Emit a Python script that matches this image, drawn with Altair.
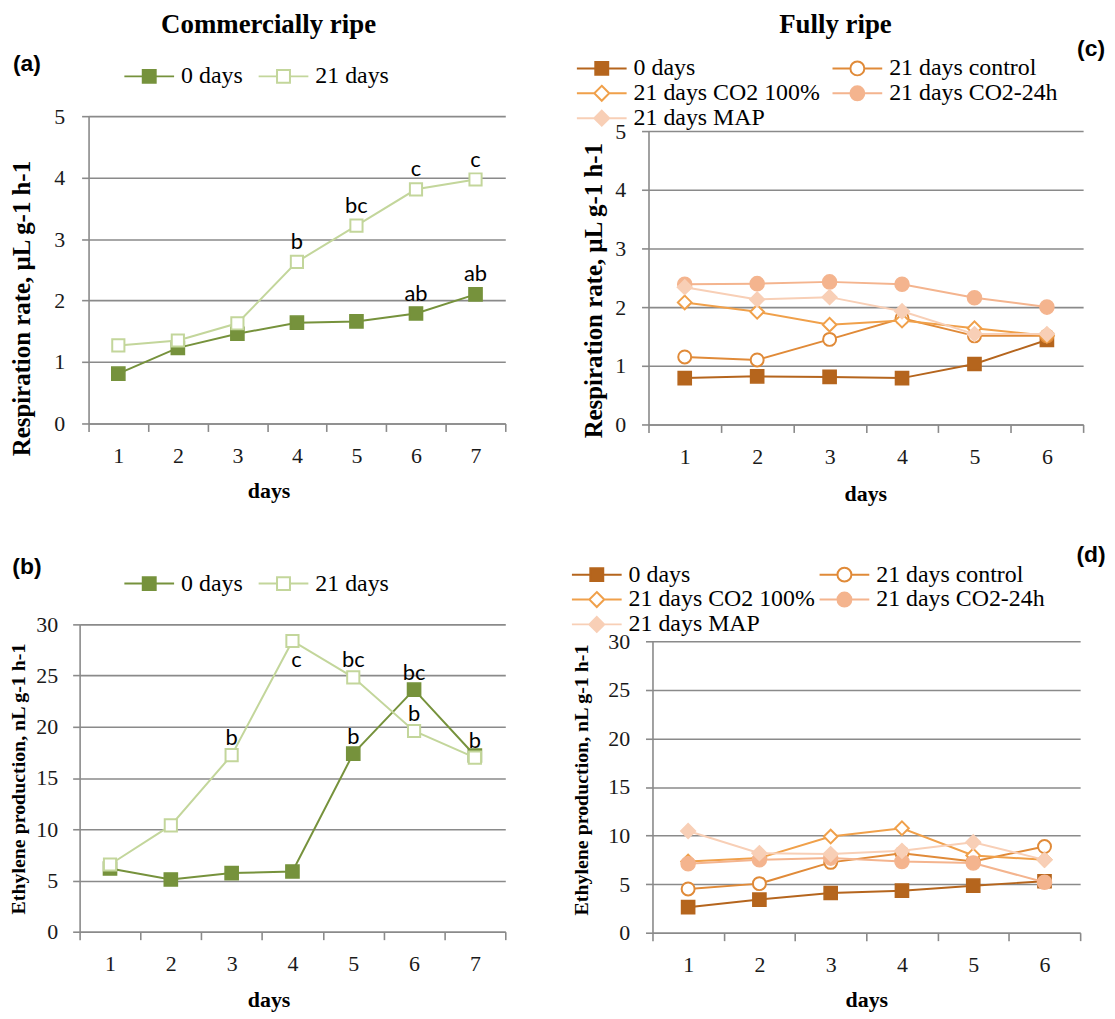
import altair as alt
import pandas as pd

# ---------------- data ----------------
days_cr = [1, 2, 3, 4, 5, 6, 7]
days_fr = [1, 2, 3, 4, 5, 6]

cr_series = ["0 days", "21 days"]
cr_resp_0 = [0.81, 1.23, 1.46, 1.64, 1.66, 1.79, 2.10]
cr_resp_21 = [1.27, 1.35, 1.63, 2.63, 3.22, 3.81, 3.97]
cr_resp_let_0 = ["", "", "", "", "", "ab", "ab"]
cr_resp_let_21 = ["", "", "", "b", "bc", "c", "c"]

cr_eth_0 = [6.17, 5.10, 5.72, 5.88, 17.39, 23.63, 17.20]
cr_eth_21 = [6.56, 10.38, 17.23, 28.38, 24.83, 19.59, 17.00]
cr_eth_let_0 = ["", "", "", "", "b", "bc", ""]
cr_eth_let_21 = ["", "", "b", "", "bc", "b", "b"]
cr_eth_let_21_below = ["", "", "", "c", "", "", ""]

fr_series = ["0 days", "21 days control", "21 days CO2 100%", "21 days CO2-24h", "21 days MAP"]
fr_resp_0 = [0.79, 0.82, 0.81, 0.79, 1.03, 1.44]
fr_resp_control = [1.15, 1.10, 1.45, 1.81, 1.51, 1.51]
fr_resp_co2 = [2.08, 1.92, 1.70, 1.77, 1.64, 1.51]
fr_resp_co2_24h = [2.39, 2.40, 2.43, 2.39, 2.16, 2.00]
fr_resp_map = [2.34, 2.13, 2.17, 1.93, 1.54, 1.54]

fr_eth_0 = [2.63, 3.41, 4.09, 4.33, 4.84, 5.30]
fr_eth_control = [4.50, 5.05, 7.24, 8.19, 7.34, 8.87]
fr_eth_co2 = [7.34, 7.68, 9.90, 10.75, 7.95, 7.50]
fr_eth_co2_24h = [7.10, 7.50, 7.68, 7.34, 7.17, 5.19]
fr_eth_map = [10.47, 8.19, 8.09, 8.43, 9.31, 7.50]

resp_ticks = [0, 1, 2, 3, 4, 5]
eth_ticks = [0, 5, 10, 15, 20, 25, 30]

# ---------------- styles ----------------
SERIF = "Liberation Serif"
SANS = "Liberation Sans"
GRID = "#8a8a8a"
LABEL = "#1a1a1a"

cr_style = {
    "0 days": dict(color="#76923C", shape="square", fill="#76923C", size=175, sw=1.5),
    "21 days": dict(color="#C3D69B", shape="square", fill="white", size=150, sw=2),
}
fr_style = {
    "0 days": dict(color="#B5651D", shape="square", fill="#B5651D", size=175, sw=1.5),
    "21 days control": dict(color="#E08A38", shape="circle", fill="white", size=170, sw=2),
    "21 days CO2 100%": dict(color="#F0A04A", shape="diamond", fill="white", size=190, sw=2),
    "21 days CO2-24h": dict(color="#F4B48E", shape="circle", fill="#F4B48E", size=200, sw=1.5),
    "21 days MAP": dict(color="#F8CFB6", shape="diamond", fill="#F8CFB6", size=220, sw=1.5),
}


def legend_path(shape):
    L = 2.5
    if shape == "square":
        r = 0.65
        body = f"M{-r},{-r}L{r},{-r}L{r},{r}L{-r},{r}Z"
    elif shape == "circle":
        r = 0.7
        body = f"M{r},0A{r},{r},0,1,1,{-r},0A{r},{r},0,1,1,{r},0Z"
    else:
        r = 0.75
        body = f"M0,{-r}L{r},0L0,{r}L{-r},0Z"
    return f"M{-L},0L{-r},0M{r},0L{L},0" + body


def long_df(days, names, values, above, below=None):
    rows = []
    for i, name in enumerate(names):
        for j, d in enumerate(days):
            rows.append({
                "day": d,
                "series": name,
                "value": values[i][j],
                "above": above[i][j],
                "below": below[i][j] if below else "",
            })
    return pd.DataFrame(rows)


def deco(text, px, py, font, size):
    return alt.Chart(pd.DataFrame({"t": [text]})).mark_text(
        font=font, fontSize=size, fontWeight="bold", color="black",
        align="center", baseline="middle"
    ).encode(x=alt.value(px), y=alt.value(py), text="t:N")


def panel(df, names, style, ymax, yticks, width, height, xrange, yrange, yoffset,
          ytitle, ytsize, ytx, yty, xtx, xty, lab_pad, leg_x, leg_y, leg_colpad,
          letter_dy, decos):
    xscale = dict(type="band", paddingInner=0, paddingOuter=0)
    if xrange:
        xscale["range"] = xrange
    yscale = dict(domain=[0, ymax], nice=False, zero=True)
    if yrange:
        yscale["range"] = yrange
    x = alt.X("day:O", title="days", scale=alt.Scale(**xscale),
              axis=alt.Axis(tickBand="extent", labelAngle=0, grid=False,
                            domainColor=GRID, domainWidth=1.6, tickColor=GRID,
                            tickWidth=1.6, tickSize=8, labelFont=SERIF,
                            labelFontSize=22, labelColor=LABEL, labelPadding=14,
                            titleFont=SERIF, titleFontSize=22, titleFontWeight="bold",
                            titleColor="black", titleX=xtx, titleY=xty,
                            titleBaseline="middle", titleAlign="center"))
    y = alt.Y("value:Q", title=ytitle, scale=alt.Scale(**yscale),
              axis=alt.Axis(values=yticks, grid=True, gridColor=GRID, gridWidth=1.6,
                            domainColor=GRID, domainWidth=1.6, tickColor=GRID,
                            tickWidth=1.6, tickSize=7, offset=yoffset,
                            labelFont=SERIF, labelFontSize=22, labelColor=LABEL,
                            labelPadding=lab_pad, titleFont=SERIF,
                            titleFontSize=ytsize, titleFontWeight="bold",
                            titleColor="black", titleX=ytx, titleY=yty,
                            titleBaseline="middle", titleAlign="center",
                            titleAngle=270))
    base = alt.Chart(df)
    layers = []
    for name in names:
        s = style[name]
        sub = base.transform_filter(alt.datum.series == name)
        layers.append(sub.mark_line(color=s["color"], strokeWidth=2).encode(x=x, y=y))
        layers.append(sub.mark_point(shape=s["shape"], filled=True, fill=s["fill"],
                                     stroke=s["color"], size=s["size"],
                                     strokeWidth=s["sw"], opacity=1).encode(x=x, y=y))
    layers.append(base.transform_filter(alt.datum.above != "").mark_text(
        font="Lato", fontSize=22, color="black", baseline="middle", dy=letter_dy
    ).encode(x=x, y=y, text="above:N"))
    layers.append(base.transform_filter(alt.datum.below != "").mark_text(
        font="Lato", fontSize=22, color="black", baseline="middle", dy=19, dx=4
    ).encode(x=x, y=y, text="below:N"))

    leg = alt.Legend(title=None, orient="none", legendX=leg_x, legendY=leg_y,
                     columns=2, direction="horizontal", symbolSize=400,
                     symbolStrokeWidth=2, labelFont=SERIF, labelFontSize=24,
                     labelColor="black", labelLimit=400, labelOffset=20,
                     columnPadding=leg_colpad, rowPadding=1, padding=0)
    layers.append(base.transform_filter("false").mark_point(
        filled=True, size=400, strokeWidth=2, opacity=1
    ).encode(
        fill=alt.Fill("series:N", scale=alt.Scale(domain=names, range=[style[n]["fill"] for n in names]), legend=leg),
        stroke=alt.Stroke("series:N", scale=alt.Scale(domain=names, range=[style[n]["color"] for n in names]), legend=leg),
        shape=alt.Shape("series:N", scale=alt.Scale(domain=names, range=[legend_path(style[n]["shape"]) for n in names]), legend=leg),
    ))
    layers.extend(decos)
    return alt.layer(*layers).properties(width=width, height=height)


df_a = long_df(days_cr, cr_series, [cr_resp_0, cr_resp_21], [cr_resp_let_0, cr_resp_let_21])
df_b = long_df(days_cr, cr_series, [cr_eth_0, cr_eth_21], [cr_eth_let_0, cr_eth_let_21],
               [[""] * 7, cr_eth_let_21_below])
blank6 = [""] * 6
df_c = long_df(days_fr, fr_series,
               [fr_resp_0, fr_resp_control, fr_resp_co2, fr_resp_co2_24h, fr_resp_map],
               [blank6] * 5)
df_d = long_df(days_fr, fr_series,
               [fr_eth_0, fr_eth_control, fr_eth_co2, fr_eth_co2_24h, fr_eth_map],
               [blank6] * 5)

RESP = "Respiration rate, µL g-1 h-1"
ETH = "Ethylene production, nL g-1 h-1"

pa = panel(df_a, cr_series, cr_style, 5, resp_ticks, 428, 309, [9, 428], None, -9,
           RESP, 25, -67, 193, 190, 67, 17, 58, -52, 12, -20,
           [deco("Commercially ripe", 190, -92, SERIF, 27), deco("(a)", -53, -52, SANS, 23)])
pc = panel(df_c, fr_series, fr_style, 5, resp_ticks, 437, 310, None, [310, 15], 0,
           RESP, 25, -55, 175, 218, 69, 16, -59, -60, 8, -20,
           [deco("Fully ripe", 188, -92, SERIF, 27), deco("(c)", 445, -67, SANS, 23)])
pb = panel(df_b, cr_series, cr_style, 30, eth_ticks, 428, 309, None, None, 0,
           ETH, 20, -61, 155, 190, 68, 15, 58, -53, 12, -17,
           [deco("(b)", -53, -58, SANS, 23)])
pd_ = panel(df_d, fr_series, fr_style, 30, eth_ticks, 437, 310, [4, 434], [310, 17], -4,
            ETH, 20, -71, 156, 219, 67, 16, -64, -62, 0, -17,
            [deco("(d)", 445, -70, SANS, 23)])

chart = alt.concat(
    pa, pc, pb, pd_, columns=2, spacing={"row": 201, "column": 144}, bounds="flush"
).resolve_scale(
    x="independent", y="independent", fill="independent",
    stroke="independent", shape="independent"
).resolve_legend(
    fill="independent", stroke="independent", shape="independent"
).properties(
    autosize=alt.AutoSizeParams(type="none"),
    padding={"left": 72, "top": 106, "right": 1033, "bottom": 899},
).configure_view(
    stroke=None
).configure_legend(
    labelFont=SERIF, labelFontSize=24, labelColor="black"
)

chart.save("out.html", embed_options={"renderer": "svg", "actions": False})
